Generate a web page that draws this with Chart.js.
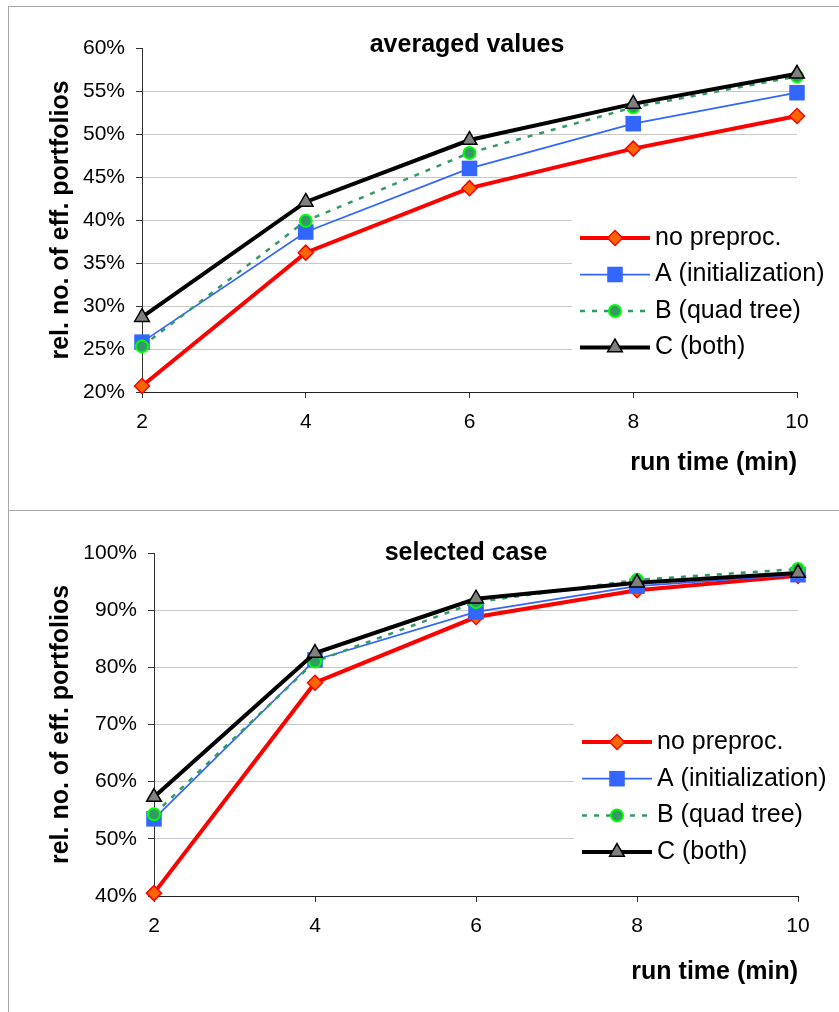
<!DOCTYPE html>
<html lang="en">
<head>
<meta charset="UTF-8">
<title>Efficient portfolios vs. run time</title>
<script src="https://cdn.jsdelivr.net/npm/chart.js"></script>
<style>
    body {
        margin: 0;
        background: #fff;
        width: 839px;
        height: 1012px;
        position: relative;
        overflow: hidden;
    }
    .panel { position: absolute; left: 0; width: 839px; }
    .panel canvas { display: block; }
    #top-panel { top: 0; height: 510px; }
    #bottom-panel { top: 511px; height: 501px; }
    .rule { position: absolute; background: #a6a6a6; }
</style>
</head>
<body>
<div class="panel" id="top-panel"><canvas id="avg-chart" width="839" height="510"></canvas></div>
<div class="panel" id="bottom-panel"><canvas id="case-chart" width="839" height="501"></canvas></div>
<div class="rule" style="left:8px;top:6px;width:831px;height:1px"></div>
<div class="rule" style="left:8px;top:6px;width:1px;height:1006px"></div>
<div class="rule" style="left:8px;top:510px;width:831px;height:1px"></div>

<script>
// data (percent)
const runTimes = [2, 4, 6, 8, 10];
const seriesNames = ['no preproc.', 'A (initialization)', 'B (quad tree)', 'C (both)'];

const avgNoPre = [20.7, 36.2, 43.7, 48.3, 52.1];
const avgInit  = [25.8, 38.6, 46.0, 51.2, 54.8];
const avgQuad  = [25.3, 39.9, 47.8, 53.1, 56.7];
const avgBoth  = [28.7, 42.1, 49.3, 53.5, 57.0];

const caseNoPre = [40.5, 77.3, 88.8, 93.5, 96.0];
const caseInit  = [53.5, 81.3, 89.7, 94.2, 96.2];
const caseQuad  = [54.3, 81.0, 91.4, 95.3, 97.2];
const caseBoth  = [57.3, 82.5, 92.0, 94.8, 96.5];

const avgAxis = [20, 60, 5];     // min, max, step
const caseAxis = [40, 100, 10];

const FONT = '"Liberation Sans", Arial, Helvetica, sans-serif';

// looks of the four series, Excel style
const seriesLook = [
    { borderColor: '#ff0000', borderWidth: 4, pointStyle: 'rectRot', pointRadius: 7.5,
      pointBackgroundColor: '#ff6600', pointBorderColor: '#ff0000', pointBorderWidth: 1.5, order: 3 },
    { borderColor: '#3366ff', borderWidth: 1.75, pointStyle: 'rect', pointRadius: 11,
      pointBackgroundColor: '#3366ff', pointBorderColor: '#3366ff', pointBorderWidth: 0, order: 2 },
    { borderColor: '#339966', borderWidth: 2.5, borderDash: [5, 7], pointStyle: 'circle', pointRadius: 6,
      pointBackgroundColor: '#339966', pointBorderColor: '#00ff00', pointBorderWidth: 2, order: 1 },
    { borderColor: '#000000', borderWidth: 4, pointStyle: 'triangle', pointRadius: 8.5,
      pointBackgroundColor: '#808080', pointBorderColor: '#000000', pointBorderWidth: 1.5, order: 0 }
];

// title drawn inside the plot area, like the original
const panelTitle = {
    id: 'panelTitle',
    afterDraw(chart, args, o) {
        const ctx = chart.ctx;
        ctx.save();
        ctx.font = 'bold 25px ' + FONT;
        ctx.fillStyle = '#000';
        ctx.textAlign = 'center';
        ctx.textBaseline = 'middle';
        ctx.fillText(o.text, o.x, o.y);
        ctx.restore();
    }
};

// legend box sitting on the lower right of the plot
const boxLegend = {
    id: 'boxLegend',
    afterDraw(chart, args, o) {
        const ctx = chart.ctx;
        ctx.save();
        ctx.fillStyle = '#fff';
        ctx.fillRect(o.left, o.top, chart.width - o.left, o.height);
        chart.data.datasets.forEach((ds, i) => {
            const y = o.firstRow + i * o.rowGap;
            const x0 = o.lineStart, x1 = o.lineStart + o.lineLen;
            ctx.strokeStyle = ds.borderColor;
            ctx.lineWidth = ds.borderWidth;
            ctx.setLineDash(ds.borderDash || []);
            ctx.beginPath();
            ctx.moveTo(x0, y);
            ctx.lineTo(x1, y);
            ctx.stroke();
            ctx.setLineDash([]);
            ctx.fillStyle = ds.pointBackgroundColor;
            ctx.strokeStyle = ds.pointBorderColor;
            ctx.lineWidth = ds.pointBorderWidth;
            Chart.helpers.drawPoint(ctx, {
                pointStyle: ds.pointStyle, radius: ds.pointRadius,
                rotation: 0, borderWidth: ds.pointBorderWidth
            }, (x0 + x1) / 2, y);
            ctx.fillStyle = '#000';
            ctx.font = '25px ' + FONT;
            ctx.textAlign = 'left';
            ctx.textBaseline = 'middle';
            ctx.fillText(ds.label, x1 + 5, y);
        });
        ctx.restore();
    }
};

function makeChart(canvasId, series, axis, geo) {
    const datasets = series.map((vals, i) => Object.assign({
        label: seriesNames[i],
        data: runTimes.map((t, j) => ({ x: t, y: vals[j] })),
        tension: 0,
        clip: false
    }, seriesLook[i]));

    return new Chart(document.getElementById(canvasId), {
        type: 'line',
        data: { datasets: datasets },
        plugins: [panelTitle, boxLegend],
        options: {
            responsive: false,
            animation: false,
            events: [],
            layout: { padding: { left: 46, right: geo.right, top: geo.top, bottom: geo.bottom } },
            plugins: {
                legend: { display: false },
                tooltip: { enabled: false },
                panelTitle: geo.title,
                boxLegend: geo.legend
            },
            scales: {
                x: {
                    type: 'linear',
                    min: runTimes[0],
                    max: runTimes[runTimes.length - 1],
                    afterFit: s => { s.height = geo.xHeight; },
                    ticks: { stepSize: 2, padding: 12, color: '#000', font: { family: FONT, size: 21 } },
                    grid: { drawOnChartArea: false, tickLength: 6, tickColor: '#333' },
                    border: { color: '#222', width: 1 },
                    title: {
                        display: true, text: 'run time (min)', align: 'end', color: '#000',
                        padding: { top: 0, bottom: 0 },
                        font: { family: FONT, size: 25, weight: 'bold' }
                    }
                },
                y: {
                    min: axis[0],
                    max: axis[1],
                    afterFit: s => { s.width = geo.yWidth; },
                    ticks: {
                        stepSize: axis[2], padding: 11, color: '#000',
                        font: { family: FONT, size: 21 },
                        callback: v => v + '%'
                    },
                    grid: {
                        tickLength: 6,
                        tickColor: '#333',
                        color: c => (c.tick && c.tick.value === axis[1]) ? 'rgba(0,0,0,0)' : '#c8c8c8'
                    },
                    border: { color: '#333', width: 1 },
                    title: {
                        display: true, text: 'rel. no. of eff. portfolios', color: '#000',
                        padding: { top: 0, bottom: 0 },
                        font: { family: FONT, size: 25, weight: 'bold' }
                    }
                }
            }
        }
    });
}

makeChart('avg-chart', [avgNoPre, avgInit, avgQuad, avgBoth], avgAxis, {
    right: 42, top: 48, bottom: 32, xHeight: 86, yWidth: 96,
    title: { text: 'averaged values', x: 467, y: 45 },
    legend: { left: 572, top: 205, height: 160, lineStart: 580, lineLen: 70, firstRow: 238, rowGap: 36.5 }
});

makeChart('case-chart', [caseNoPre, caseInit, caseQuad, caseBoth], caseAxis, {
    right: 41, top: 42, bottom: 25, xHeight: 91, yWidth: 108,
    title: { text: 'selected case', x: 466, y: 42 },
    legend: { left: 574, top: 198, height: 160, lineStart: 582, lineLen: 70, firstRow: 231, rowGap: 36.7 }
});
</script>
</body>
</html>
